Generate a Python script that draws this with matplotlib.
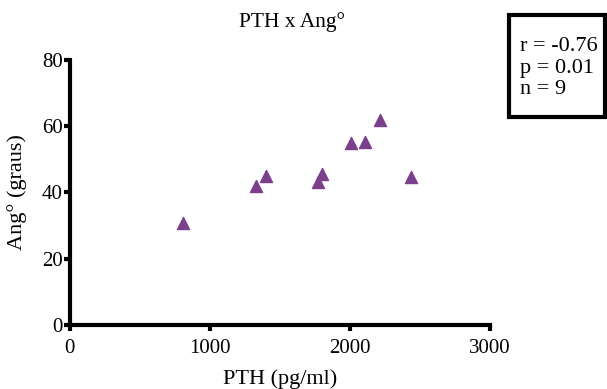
import matplotlib
matplotlib.use("Agg")
import matplotlib.pyplot as plt
from matplotlib.patches import Rectangle

# PTH (pg/ml) vs Ang° (graus)
pth = [807, 1333, 1398, 1774, 1798, 2007, 2107, 2214, 2436]
ang = [30.8, 42.0, 44.8, 43.0, 45.6, 54.9, 55.1, 61.7, 44.6]
xticks = [0, 1000, 2000, 3000]
yticks = [0, 20, 40, 60, 80]
stats_text = "r = -0.76\np = 0.01\nn = 9"

plt.rcParams['font.family'] = ['Liberation Serif', 'DejaVu Serif']

fig = plt.figure(figsize=(6.07, 3.89), dpi=100)
ax = fig.add_axes([0.115, 0.1645, 0.692, 0.682])

ax.scatter(pth, ang, marker='^', s=75, color='#7b3f8c', zorder=3)

ax.set_xlim(0, 3000)
ax.set_ylim(0, 80)
ax.set_xticks(xticks)
ax.set_yticks(yticks)

for side in ['top', 'right']:
    ax.spines[side].set_visible(False)
for side in ['left', 'bottom']:
    ax.spines[side].set_linewidth(3)
    ax.spines[side].set_capstyle('projecting')
ax.tick_params(direction='out', length=4, width=3, labelsize=15)
ax.tick_params(axis='x', pad=6)
ax.tick_params(axis='y', pad=1)

ax.set_xlabel('PTH (pg/ml)', fontsize=16)
ax.set_ylabel('Ang° (graus)', fontsize=16)
ax.xaxis.set_label_coords(0.5, -0.165)
ax.yaxis.set_label_coords(-0.102, 0.5)

fig.text(0.481, 0.943, 'PTH x Ang°', fontsize=15.5, ha='center', va='center')

# stats box
fig.patches.append(Rectangle((509 / 607, 1 - 117 / 389), 96 / 607, 102 / 389,
                             transform=fig.transFigure, facecolor='white',
                             edgecolor='black', linewidth=3))
fig.text(520 / 607, 1 - 68 / 389, stats_text, fontsize=16, ha='left',
         va='center', linespacing=1.2)

fig.savefig('out.png', dpi=100)
